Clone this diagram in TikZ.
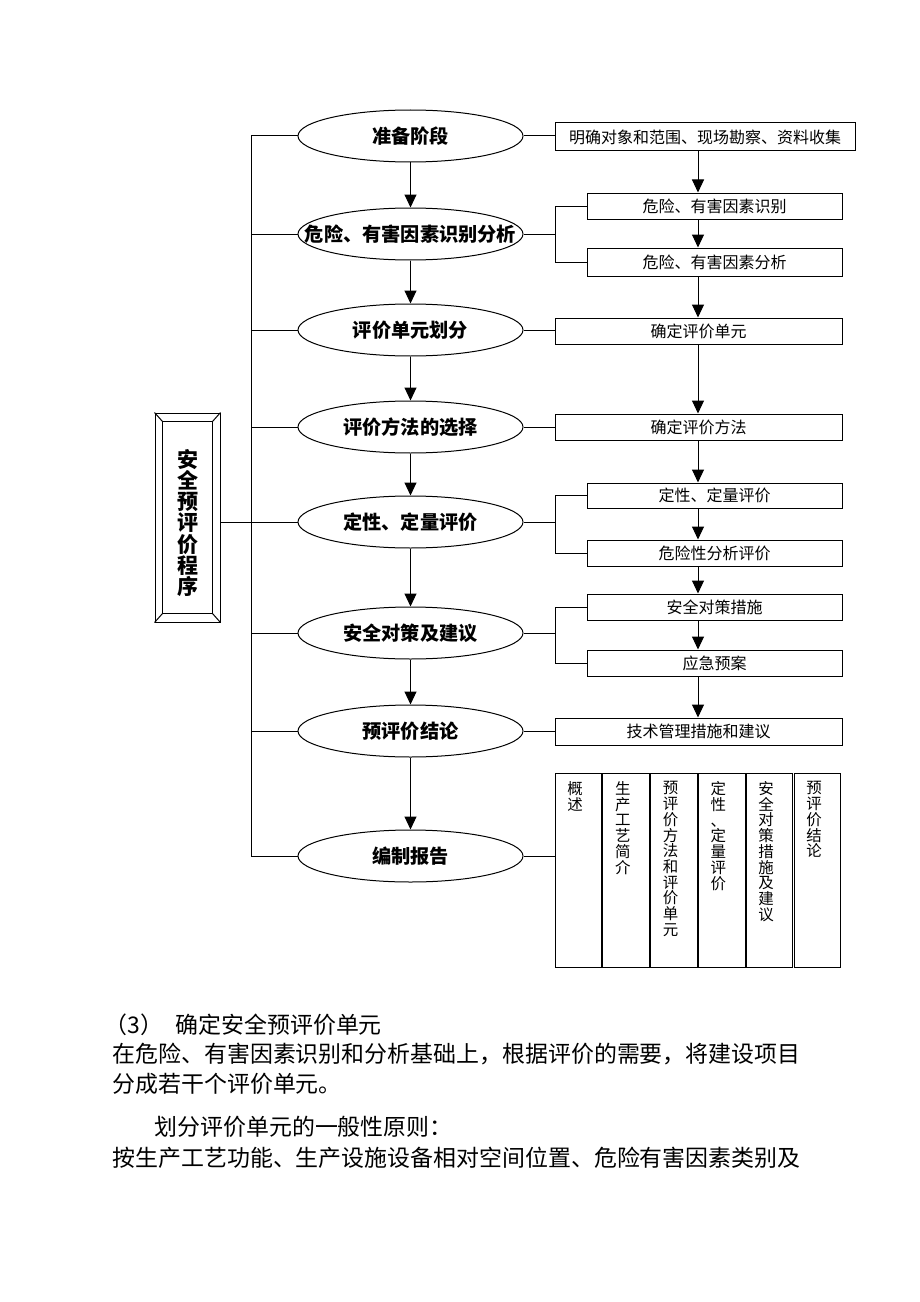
\documentclass[tikz,border=0pt]{standalone}
\usepackage{fontspec}
\newfontfamily\cjk{Noto Sans CJK SC}
\usetikzlibrary{shapes.geometric,arrows.meta}
\newcommand\mkz[1]{\makebox[0pt]{#1}}
\begin{document}
\begin{tikzpicture}[x=0.75pt,y=-0.75pt,line width=0.75pt,
  ell/.style={draw,ellipse,inner sep=0pt,minimum width=168.75pt,minimum height=39pt,
    font=\cjk\bfseries\fontsize{14.4pt}{17pt}\selectfont},
  box/.style={draw,rectangle,inner sep=0pt,minimum height=19.5pt,
    font=\cjk\fontsize{12pt}{14pt}\selectfont},
  wbox/.style={box,minimum width=215.25pt},
  nbox/.style={box,minimum width=191.25pt},
  col/.style={draw,rectangle,inner sep=0pt,minimum width=34.95pt,minimum height=145.5pt},
  coltext/.style={inner sep=0pt,anchor=north,align=center,
    font=\cjk\fontsize{11.6pt}{11.8pt}\selectfont},
  para/.style={inner sep=0pt,anchor=west,font=\cjk\fontsize{17.2pt}{20pt}\selectfont},
  arr/.style={-{Triangle[width=9pt,length=9.75pt]}}]
\path[use as bounding box] (0,0) rectangle (920,1302);

% ellipses
\node[ell] (e1) at (410.5,136) {\mkz{准备阶段}};
\node[ell] (e2) at (410.5,234) {\mkz{危险、有害因素识别分析}};
\node[ell] (e3) at (410.5,330) {\mkz{评价单元划分}};
\node[ell] (e4) at (410.5,427) {\mkz{评价方法的选择}};
\node[ell] (e5) at (410.5,522) {\mkz{定性、定量评价}};
\node[ell] (e6) at (410.5,633) {\mkz{安全对策及建议}};
\node[ell] (e7) at (410.5,731) {\mkz{预评价结论}};
\node[ell] (e8) at (410.5,856) {\mkz{编制报告}};

\foreach \a/\b in {1/2,2/3,3/4,4/5,5/6,6/7,7/8}
  \draw[arr] (e\a.south) -- (e\b.north);

% trunk
\coordinate (tk) at (251,0);
\draw (e1.west -| tk) -- (e8.west -| tk);
\foreach \i in {1,...,8}
  \draw (e\i.west) -- (e\i.west -| tk);

% left box
\node[draw,rectangle,inner sep=0pt,minimum width=48.75pt,minimum height=156.75pt] (lb) at (187.5,517.5) {};
\draw ([shift={(8,9)}]lb.north west) rectangle ([shift={(-8,-9)}]lb.south east);
\draw (lb.north west) -- ++(8,9);
\draw (lb.north east) -- ++(-8,9);
\draw (lb.south west) -- ++(8,-9);
\draw (lb.south east) -- ++(-8,-9);
\node[inner sep=0pt,align=center,font=\cjk\bfseries\fontsize{15.75pt}{15.9pt}\selectfont] (lt) at (187.5,523) {安\\全\\预\\评\\价\\程\\序};
\draw (lb.east |- e5.west) -- (e5.west -| tk);

% right boxes
\node[box,minimum width=225pt,minimum height=21pt] (A) at (705,137) {明确对象和范围、现场勘察、资料收集};
\node[nbox] (B) at (714.5,206) {危险、有害因素识别};
\node[nbox,minimum height=21pt] (C) at (714.5,262) {危险、有害因素分析};
\node[wbox] (D) at (698.5,331) {确定评价单元};
\node[wbox] (E) at (698.5,427) {确定评价方法};
\node[nbox,minimum height=18.75pt] (F) at (714.5,495.5) {定性、定量评价};
\node[nbox] (G) at (714.5,553) {危险性分析评价};
\node[nbox] (H) at (714.5,607) {安全对策措施};
\node[nbox] (I) at (714.5,663) {应急预案};
\node[wbox,minimum height=20.25pt] (J) at (698.5,731.5) {技术管理措施和建议};

\coordinate (cx) at (698,0);
\foreach \a/\b in {A/B,B/C,C/D,D/E,E/F,F/G,G/H,H/I,I/J}
  \draw[arr] (\a.south -| cx) -- (\b.north -| cx);

\coordinate (bx) at (555,0);
\draw (e1.east) -- (e1.east -| A.west);
\draw (e2.east) -- (e2.east -| bx);
\draw (B.west) -- (B.west -| bx) -- (C.west -| bx) -- (C.west);
\draw (e3.east) -- (e3.east -| D.west);
\draw (e4.east) -- (e4.east -| E.west);
\draw (e5.east) -- (e5.east -| bx);
\draw (F.west) -- (F.west -| bx) -- (G.west -| bx) -- (G.west);
\draw (e6.east) -- (e6.east -| bx);
\draw (H.west) -- (H.west -| bx) -- (I.west -| bx) -- (I.west);
\draw (e7.east) -- (e7.east -| J.west);

% report table
\node[col] (c1) at (578.3,870) {};
\node[col] (c2) at (626.1,870) {};
\node[col] (c3) at (673.9,870) {};
\node[col] (c4) at (721.7,870) {};
\node[col] (c5) at (769.5,870) {};
\node[col] (c6) at (817.3,870) {};
\draw (e8.east) -- (e8.east -| c1.west);
\node[coltext] (x1) at (575,781) {概\\述};
\node[coltext] (x2) at (622.8,781) {生\\产\\工\\艺\\简\\介};
\node[coltext] (x3) at (670.6,781) {预\\评\\价\\方\\法\\和\\评\\价\\单\\元};
\node[coltext] (x4) at (718.4,781) {定\\性\\、\\定\\量\\评\\价};
\node[coltext] (x5) at (766.2,781) {安\\全\\对\\策\\措\\施\\及\\建\\议};
\node[coltext] (x6) at (814,781) {预\\评\\价\\结\\论};

% paragraph text
\node[para] (p1a) at (104,1025) {（3）};
\node[para] (p1b) at (175,1025) {确定安全预评价单元};
\node[para] (p2) at (112,1054) {在危险、有害因素识别和分析基础上，根据评价的需要，将建设项目};
\node[para] (p3) at (112,1084) {分成若干个评价单元。};
\node[para] (p4) at (154,1127) {划分评价单元的一般性原则：};
\node[para] (p5) at (112,1158) {按生产工艺功能、生产设施设备相对空间位置、危险有害因素类别及};
\end{tikzpicture}
\end{document}
